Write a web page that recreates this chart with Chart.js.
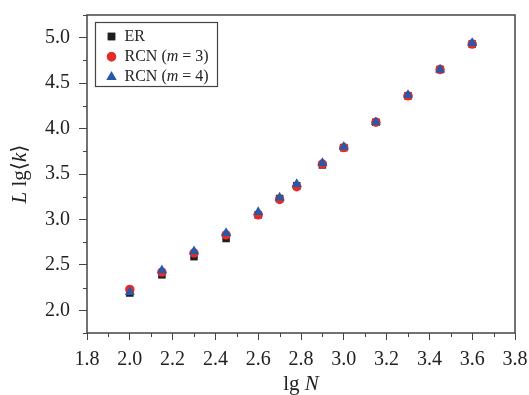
<!DOCTYPE html>
<html>
<head>
<meta charset="utf-8">
<script src="https://cdn.jsdelivr.net/npm/chart.js@4"></script>
<style>
  html, body { margin: 0; padding: 0; background: #fff; }
  #wrap { width: 529px; height: 395px; }
</style>
</head>
<body>
<div id="wrap"><canvas id="chart" width="529" height="395"></canvas></div>
<script>
// lg N values (x positions)
const lgN = [2.0, 2.15, 2.3, 2.45, 2.6, 2.7, 2.78, 2.9, 3.0, 3.15, 3.3, 3.45, 3.6];

// L lg<k> for each network
const erValues   = [2.19, 2.39, 2.59, 2.79, 3.05, 3.23, 3.37, 3.60, 3.79, 4.07, 4.36, 4.65, 4.93];
const rcn3Values = [2.23, 2.42, 2.63, 2.83, 3.05, 3.22, 3.36, 3.61, 3.79, 4.07, 4.36, 4.65, 4.93];
const rcn4Values = [2.20, 2.44, 2.65, 2.85, 3.08, 3.24, 3.39, 3.62, 3.80, 4.07, 4.37, 4.65, 4.94];

const xTickLabels = ['1.8', '2.0', '2.2', '2.4', '2.6', '2.8', '3.0', '3.2', '3.4', '3.6', '3.8'];
const yTickLabels = ['2.0', '2.5', '3.0', '3.5', '4.0', '4.5', '5.0'];

const SERIF = '"Liberation Serif", "DejaVu Serif", serif';
const FRAME = '#444';

const toPoints = ys => lgN.map((x, i) => ({ x: x, y: ys[i] }));

const series = [
  { label: 'ER', data: toPoints(erValues), color: '#1e1e1e', style: 'rect', radius: 5.3, order: 2 },
  { label: 'RCN', m: '3', data: toPoints(rcn3Values), color: '#e62b2b', style: 'circle', radius: 4.7, order: 1 },
  { label: 'RCN', m: '4', data: toPoints(rcn4Values), color: '#2a58a6', style: 'triangle', radius: 5.8, order: 0 }
];

const isMajorX = v => Math.abs(v * 10 - Math.round(v * 10)) < 1e-6 && Math.round(v * 10) % 2 === 0;
const isMajorY = v => Math.abs(v * 2 - Math.round(v * 2)) < 1e-6;

// draws frame, minor ticks, legend box and axis titles
const decorations = {
  id: 'decorations',
  afterDraw(chart) {
    const ctx = chart.ctx;
    const a = chart.chartArea;
    const xs = chart.scales.x, ys = chart.scales.y;
    ctx.save();

    // minor ticks
    ctx.strokeStyle = FRAME;
    ctx.lineWidth = 1;
    xs.ticks.forEach(t => {
      if (isMajorX(t.value)) return;
      const px = Math.round(xs.getPixelForValue(t.value)) + 0.5;
      ctx.beginPath(); ctx.moveTo(px, a.bottom); ctx.lineTo(px, a.bottom + 4); ctx.stroke();
    });
    ys.ticks.forEach(t => {
      if (isMajorY(t.value)) return;
      const py = Math.round(ys.getPixelForValue(t.value)) + 0.5;
      ctx.beginPath(); ctx.moveTo(a.left, py); ctx.lineTo(a.left - 4, py); ctx.stroke();
    });

    // frame
    ctx.lineWidth = 1.5;
    ctx.strokeRect(a.left, a.top, a.right - a.left, a.bottom - a.top);

    // legend
    const lx = a.left + 8.5, ly = a.top + 7.5, lw = 122, lh = 64;
    ctx.fillStyle = '#fff';
    ctx.fillRect(lx, ly, lw, lh);
    ctx.lineWidth = 1.2;
    ctx.strokeStyle = FRAME;
    ctx.strokeRect(lx, ly, lw, lh);
    ctx.textBaseline = 'middle';
    series.forEach((s, i) => {
      const cy = ly + 14 + i * 20.3;
      const cx = lx + 16;
      ctx.fillStyle = s.color;
      Chart.helpers.drawPoint(ctx, { pointStyle: s.style, radius: s.radius, borderWidth: 0 }, cx, cy);
      ctx.fill();
      ctx.fillStyle = '#222';
      let tx = lx + 29;
      ctx.font = '16px ' + SERIF;
      ctx.textAlign = 'left';
      if (s.m === undefined) {
        ctx.fillText(s.label, tx, cy);
      } else {
        const parts = [[s.label + ' (', false], ['m', true], [' = ' + s.m + ')', false]];
        parts.forEach(p => {
          ctx.font = (p[1] ? 'italic ' : '') + '16px ' + SERIF;
          ctx.fillText(p[0], tx, cy);
          tx += ctx.measureText(p[0]).width;
        });
      }
    });

    // x title: lg N
    ctx.fillStyle = '#222';
    const xParts = [['lg ', false], ['N', true]];
    const tFont = p => (p[1] ? 'italic ' : '') + '21px ' + SERIF;
    let total = 0;
    xParts.forEach(p => { ctx.font = tFont(p); total += ctx.measureText(p[0]).width; });
    let tx = (a.left + a.right) / 2 - total / 2;
    xParts.forEach(p => { ctx.font = tFont(p); ctx.textAlign = 'left'; ctx.fillText(p[0], tx, 384); tx += ctx.measureText(p[0]).width; });

    // y title: L lg<k>
    const yParts = [['L', true], [' lg\u27E8', false], ['k', true], ['\u27E9', false]];
    total = 0;
    yParts.forEach(p => { ctx.font = tFont(p); total += ctx.measureText(p[0]).width; });
    ctx.translate(20, (a.top + a.bottom) / 2);
    ctx.rotate(-Math.PI / 2);
    tx = -total / 2;
    yParts.forEach(p => { ctx.font = tFont(p); ctx.textAlign = 'left'; ctx.fillText(p[0], tx, 0); tx += ctx.measureText(p[0]).width; });

    ctx.restore();
  }
};

new Chart(document.getElementById('chart'), {
  type: 'scatter',
  data: {
    datasets: series.map(s => ({
      label: s.m ? s.label + ' (m = ' + s.m + ')' : s.label,
      data: s.data,
      pointStyle: s.style,
      pointRadius: s.radius,
      pointHoverRadius: s.radius,
      pointBorderWidth: 0,
      backgroundColor: s.color,
      borderColor: s.color,
      order: s.order
    }))
  },
  options: {
    responsive: false,
    animation: false,
    layout: { padding: { top: 15, right: 14, left: 0, bottom: 0 } },
    plugins: { legend: { display: false }, tooltip: { enabled: false } },
    scales: {
      x: {
        type: 'linear',
        min: 1.8,
        max: 3.8,
        afterFit: s => { s.height = 62; s.paddingLeft = 0; s.paddingRight = 0; },
        afterBuildTicks: s => {
          s.ticks = [];
          for (let i = 18; i <= 38; i++) s.ticks.push({ value: i / 10 });
        },
        ticks: {
          autoSkip: false,
          maxRotation: 0,
          padding: 8,
          color: '#222',
          font: { family: SERIF, size: 20 },
          callback: v => isMajorX(v) ? xTickLabels[Math.round((v - 1.8) * 5)] : ''
        },
        grid: {
          drawOnChartArea: false,
          tickLength: 7,
          tickColor: c => (c.tick && isMajorX(c.tick.value)) ? FRAME : 'rgba(0,0,0,0)'
        },
        border: { display: false }
      },
      y: {
        type: 'linear',
        min: 1.75,
        max: 5.25,
        afterFit: s => { s.width = 87; s.paddingTop = 0; s.paddingBottom = 0; },
        afterBuildTicks: s => {
          s.ticks = [];
          for (let i = 7; i <= 21; i++) s.ticks.push({ value: i / 4 });
        },
        ticks: {
          autoSkip: false,
          padding: 9,
          color: '#222',
          font: { family: SERIF, size: 20 },
          callback: v => isMajorY(v) ? yTickLabels[Math.round((v - 2) * 2)] : ''
        },
        grid: {
          drawOnChartArea: false,
          tickLength: 8,
          tickColor: c => (c.tick && isMajorY(c.tick.value)) ? FRAME : 'rgba(0,0,0,0)'
        },
        border: { display: false }
      }
    }
  },
  plugins: [decorations]
});
</script>
</body>
</html>
